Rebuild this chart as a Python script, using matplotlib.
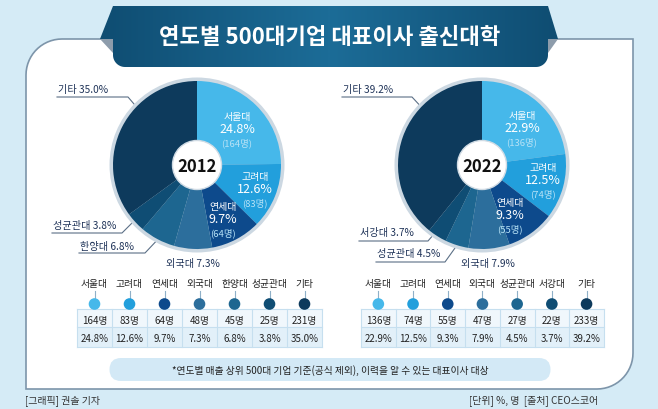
import numpy as np
import matplotlib.pyplot as plt
from matplotlib.patches import Polygon, Circle, FancyBboxPatch, Rectangle

plt.rcParams['font.family'] = ['Noto Sans CJK KR', 'DejaVu Sans']

# ---- data ----
title = '연도별 500대기업 대표이사 출신대학'
years = ['2012', '2022']
schools_2012 = ['서울대', '고려대', '연세대', '외국대', '한양대', '성균관대', '기타']
pct_2012 = [24.8, 12.6, 9.7, 7.3, 6.8, 3.8, 35.0]
cnt_2012 = [164, 83, 64, 48, 45, 25, 231]
schools_2022 = ['서울대', '고려대', '연세대', '외국대', '성균관대', '서강대', '기타']
pct_2022 = [22.9, 12.5, 9.3, 7.9, 4.5, 3.7, 39.2]
cnt_2022 = [136, 74, 55, 47, 27, 22, 233]
colors = ['#46b8ea', '#229fdc', '#0d4a8c', '#2c6e9c', '#1d6690', '#0f4d74', '#0d3a5c']
note = '*연도별 매출 상위 500대 기업 기준(공식 제외), 이력을 알 수 있는 대표이사 대상'
credit = '[그래픽] 권솔 기자'
source = '[단위] %, 명  [출처] CEO스코어'

W, H = 658, 410
fig = plt.figure(figsize=(W / 100, H / 100), dpi=100, facecolor='#d5ebf6')
ax = fig.add_axes([0, 0, 1, 1])
ax.set_facecolor('#d5ebf6')


def arc(cx, cy, r, a0, a1, n=16):
    t = np.radians(np.linspace(a0, a1, n))
    return list(zip(cx + r * np.cos(t), cy + r * np.sin(t)))


# white panel, rounded top-left and bottom-right
R = 36
pts = [(26, 390), (26, 40 + R)] + arc(26 + R, 40 + R, R, 180, 270) + \
      [(633, 40), (633, 390 - R)] + arc(633 - R, 390 - R, R, 0, 90) + [(26, 390)]
ax.add_patch(Polygon(pts, closed=True, fc='white', ec='#7d95aa', lw=1.2, zorder=1))

# title banner
body = [(113, 7), (548, 7), (558, 40), (548, 40), (548, 56)] + arc(536, 56, 12, 0, 90) + \
       [(125, 68)] + arc(125, 56, 12, 90, 180) + [(113, 40), (100, 40)]
ax.add_patch(Polygon([(100, 40), (113, 40), (113, 54)], fc='#8d9cab', ec='none', zorder=2))
ax.add_patch(Polygon([(558, 40), (548, 40), (548, 54)], fc='#8d9cab', ec='none', zorder=2))
banner = Polygon(body, closed=True, fc='none', ec='none', zorder=3)
ax.add_patch(banner)
grad = np.abs(np.linspace(-1, 1, 200))[None, :]
im = ax.imshow(grad, cmap=plt.matplotlib.colors.LinearSegmentedColormap.from_list(
    'b', ['#1c6c97', '#0f4d72']), extent=(100, 558, 68, 7), aspect='auto', zorder=3)
im.set_clip_path(banner)
ax.text(330, 37, title, color='white', fontsize=16, fontweight='bold',
        ha='center', va='center', zorder=4)

# pies
centers = [(197, 166), (482, 166)]
all_pct = [pct_2012, pct_2022]
all_cnt = [cnt_2012, cnt_2022]
all_names = [schools_2012, schools_2022]
inner_pos = [[(237, 117), (255, 177), (223, 207)],
             [(522, 116), (543, 168), (510, 203)]]
outer = [
    [(6, (58, 90), [(57, 98), (128, 98), (140, 112)]),
     (5, (53, 226), [(52, 234), (122, 234), (138, 218)]),
     (4, (80, 247), [(79, 254), (145, 254), (162, 236)]),
     (3, (193, 264), None)],
    [(6, (343, 90), [(342, 98), (412, 98), (425, 112)]),
     (5, (360, 233), [(359, 242), (428, 242), (440, 228)]),
     (4, (377, 254), [(376, 263), (445, 263), (460, 242)]),
     (3, (488, 264), None)],
]
label_c = '#1f3358'
for k in range(2):
    cx, cy = centers[k]
    ax.add_patch(Circle((cx, cy), 87.5, fc='#ccd8e2', ec='none', zorder=5))
    wedges, _ = ax.pie(all_pct[k], colors=colors, startangle=-90, counterclock=True,
                       center=(cx, cy), radius=84, wedgeprops=dict(linewidth=0))
    for w in wedges:
        w.set_zorder(6)
    ax.add_patch(Circle((cx, cy), 24.5, fc='white', ec='#d0dbe4', lw=1, zorder=7))
    ax.text(cx, cy + 1, years[k], fontsize=12, fontweight='bold', color='#111111',
            ha='center', va='center', zorder=8)
    for i, (x, y) in enumerate(inner_pos[k]):
        ax.text(x, y, all_names[k][i], color='white', fontsize=7.2, ha='center', va='center', zorder=8)
        ax.text(x, y + 13, f'{all_pct[k][i]:.1f}%', color='white', fontsize=9,
                ha='center', va='center', zorder=8)
        ax.text(x, y + 26, f'({all_cnt[k][i]}명)', color='#b7e2f6', fontsize=6.8,
                ha='center', va='center', zorder=8)
    for i, (tx, ty), line in outer[k]:
        s = f'{all_names[k][i]} {all_pct[k][i]:.1f}%'
        if line is None:
            ax.text(tx, ty, s, color=label_c, fontsize=7.3, ha='center', va='center', zorder=8)
        else:
            ax.text(tx, ty, s, color=label_c, fontsize=7.3, ha='left', va='center', zorder=8)
            xs, ys = zip(*line)
            ax.plot(xs, ys, color='#5b6f86', lw=0.8, zorder=4)

# tables
tables = [(77, 35.0), (361, 34.7)]
for k in range(2):
    x0, cw = tables[k]
    n = len(all_names[k])
    xs = x0 + cw * (np.arange(n) + 0.5)
    ax.add_patch(Rectangle((x0, 310), cw * n, 18, fc='#f0f7fc', ec='none', zorder=2))
    ax.add_patch(Rectangle((x0, 328), cw * n, 20, fc='#e2f0f9', ec='none', zorder=2))
    for j in range(n + 1):
        ax.plot([x0 + cw * j] * 2, [310, 348], color='#c6dfef', lw=0.8, zorder=3)
    for yy in (310, 328, 348):
        ax.plot([x0, x0 + cw * n], [yy, yy], color='#c6dfef', lw=0.8, zorder=3)
    for j in range(n):
        ax.text(xs[j], 284, all_names[k][j], fontsize=7, color='#222222',
                ha='center', va='center', zorder=4)
        ax.plot([xs[j], xs[j]], [292, 301], color='#8fb0c8', lw=0.8, zorder=3)
        ax.text(xs[j], 321, f'{all_cnt[k][j]}명', fontsize=7, color='#222222',
                ha='center', va='center', zorder=4)
        ax.text(xs[j], 339, f'{all_pct[k][j]:.1f}%', fontsize=7, color='#222222',
                ha='center', va='center', zorder=4)
    ax.scatter(xs, [305] * n, s=70, c=colors, edgecolors='none', zorder=4)

# footnote
ax.add_patch(FancyBboxPatch((98 + 11.5, 359), 464 - 23, 23, boxstyle='round,pad=0,rounding_size=11.5',
                            fc='#d3e9f6', ec='none', zorder=2, mutation_aspect=1))
ax.text(330, 370.5, note, fontsize=7, color='#222222', ha='center', va='center', zorder=3)

ax.text(25, 401, credit, fontsize=7.2, color='#333333', ha='left', va='center')
ax.text(598, 401, source, fontsize=7.2, color='#333333', ha='right', va='center')

ax.set_xlim(0, W)
ax.set_ylim(H, 0)
ax.set_aspect('auto')
ax.axis('off')
fig.savefig('out.png', dpi=100, facecolor=fig.get_facecolor())
